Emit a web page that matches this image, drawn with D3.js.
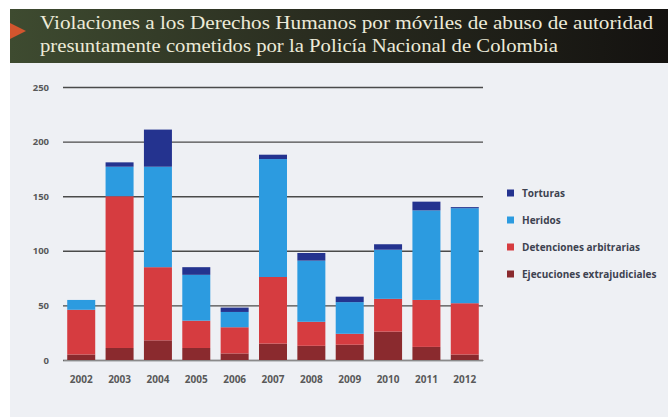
<!DOCTYPE html>
<html>
<head>
<meta charset="utf-8">
<script src="https://cdn.jsdelivr.net/npm/d3@7"></script>
<style>
  body { margin: 0; background: #fff; }
  svg { display: block; }
  .tick text { font-family: "Open Sans", sans-serif; font-weight: 700; fill: #595959; }
</style>
</head>
<body>
<svg width="668" height="417"></svg>
<script>
var years = ["2002","2003","2004","2005","2006","2007","2008","2009","2010","2011","2012"];
var series = ["Ejecuciones extrajudiciales", "Detenciones arbitrarias", "Heridos", "Torturas"];
var ejecuciones = [5, 11, 18, 11, 6, 15, 13, 14, 26, 12, 5];
var detenciones = [41, 139, 67, 25, 24, 61, 22, 10, 30, 43, 47];
var heridos = [9, 27, 92, 42, 14, 108, 56, 29, 45, 82, 87];
var torturas = [0, 4, 34, 7, 4, 4, 7, 5, 5, 8, 1];
var yTicks = [0, 50, 100, 150, 200, 250];
var colors = ["#8a2a2e", "#d63c40", "#2c9be0", "#24338f"];

var svg = d3.select("svg");

// background of the slide
svg.append("rect").attr("width", 668).attr("height", 417).attr("fill", "#fff");
svg.append("rect").attr("x", 10).attr("y", 63).attr("width", 658).attr("height", 354).attr("fill", "#eef0f4");

// title banner
var grad = svg.append("defs").append("linearGradient").attr("id", "banner");
grad.append("stop").attr("offset", "0%").attr("stop-color", "#3e4b30");
grad.append("stop").attr("offset", "45%").attr("stop-color", "#2a2d20");
grad.append("stop").attr("offset", "100%").attr("stop-color", "#141210");
svg.append("rect").attr("x", 10).attr("y", 9).attr("width", 658).attr("height", 54).attr("fill", "url(#banner)");
svg.append("path").attr("d", "M10,23 L26,31 L10,39 Z").attr("fill", "#d2552e");

var title = svg.append("g")
    .attr("font-family", "Liberation Serif, serif")
    .attr("font-size", 19)
    .attr("fill", "#ecead8");
title.append("text").attr("x", 40).attr("y", 29)
    .attr("textLength", 613).attr("lengthAdjust", "spacingAndGlyphs")
    .text("Violaciones a los Derechos Humanos por móviles de abuso de autoridad");
title.append("text").attr("x", 40).attr("y", 52)
    .attr("textLength", 518).attr("lengthAdjust", "spacingAndGlyphs")
    .text("presuntamente cometidos por la Policía Nacional de Colombia");

// scales
var x = d3.scaleBand()
    .domain(years)
    .range([63, 483])
    .paddingInner(0.27)
    .paddingOuter(0.11);

var y = d3.scaleLinear()
    .domain([0, 250])
    .range([360, 87]);

var table = years.map(function(yr, i) {
  return {
    year: yr,
    "Ejecuciones extrajudiciales": ejecuciones[i],
    "Detenciones arbitrarias": detenciones[i],
    "Heridos": heridos[i],
    "Torturas": torturas[i]
  };
});

var stacked = d3.stack().keys(series)(table);

// gridlines
var yAxis = svg.append("g")
    .attr("transform", "translate(63,0)")
    .call(d3.axisLeft(y).tickValues(yTicks).tickSize(-420).tickPadding(14));
yAxis.select(".domain").remove();
yAxis.selectAll(".tick line").attr("stroke", "#4a4a4a").attr("stroke-width", 1.4);
yAxis.selectAll(".tick text").attr("font-size", 9.5);

// bars
svg.append("g").selectAll("g")
  .data(stacked)
  .enter().append("g")
    .attr("fill", function(d, i) { return colors[i]; })
  .selectAll("rect")
  .data(function(d) { return d; })
  .enter().append("rect")
    .attr("x", function(d) { return x(d.data.year); })
    .attr("y", function(d) { return y(d[1]); })
    .attr("height", function(d) { return y(d[0]) - y(d[1]); })
    .attr("width", x.bandwidth());

// x axis
var xAxis = svg.append("g")
    .attr("transform", "translate(0,360)")
    .call(d3.axisBottom(x).tickSize(0).tickPadding(16));
xAxis.select(".domain").attr("stroke", "#8a8a8a");
xAxis.selectAll(".tick text").attr("font-size", 10);

// legend
var legendItems = series.slice().reverse();
var legendColors = colors.slice().reverse();
var legend = svg.append("g").attr("transform", "translate(507,193)");
var row = legend.selectAll("g")
  .data(legendItems)
  .enter().append("g")
    .attr("transform", function(d, i) { return "translate(0," + (i * 27) + ")"; });
row.append("rect")
    .attr("x", 0).attr("y", -3.5)
    .attr("width", 7).attr("height", 7)
    .attr("fill", function(d, i) { return legendColors[i]; });
row.append("text")
    .attr("x", 15).attr("y", 0).attr("dy", "0.35em")
    .attr("font-family", "Open Sans, sans-serif")
    .attr("font-weight", 700)
    .attr("font-size", 10)
    .attr("fill", "#3d4250")
    .text(function(d) { return d; });
</script>
</body>
</html>
